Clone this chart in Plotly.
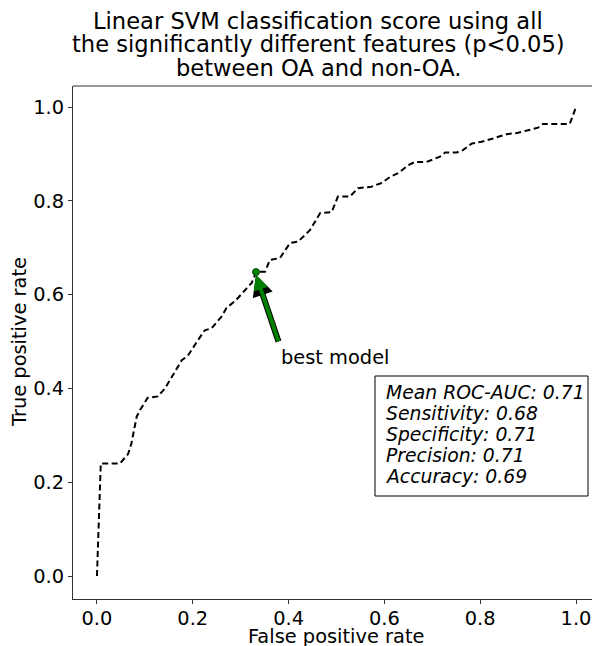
import plotly.graph_objects as go

# mean ROC curve
fpr = [0.0, 0.008, 0.048, 0.065, 0.072, 0.083, 0.09, 0.106, 0.127, 0.142, 0.177, 0.19,
       0.211, 0.225, 0.239, 0.26, 0.27, 0.29, 0.323, 0.333, 0.351, 0.361, 0.382, 0.403,
       0.42, 0.445, 0.466, 0.49, 0.503, 0.528, 0.545, 0.573, 0.594, 0.612, 0.629, 0.65,
       0.664, 0.688, 0.716, 0.727, 0.751, 0.764, 0.782, 0.803, 0.827, 0.855, 0.879,
       0.904, 0.921, 0.931, 0.987, 1.0]
tpr = [0.0, 0.24, 0.24, 0.26, 0.283, 0.34, 0.354, 0.38, 0.383, 0.40, 0.46, 0.47,
       0.503, 0.524, 0.528, 0.553, 0.571, 0.588, 0.625, 0.649, 0.649, 0.674, 0.678, 0.71,
       0.713, 0.738, 0.774, 0.776, 0.809, 0.809, 0.827, 0.83, 0.838, 0.851, 0.859, 0.876,
       0.883, 0.883, 0.894, 0.903, 0.903, 0.908, 0.922, 0.926, 0.933, 0.942, 0.945,
       0.951, 0.956, 0.964, 0.964, 1.0]

best_fpr = [0.332]
best_tpr = [0.648]

ticks = [0.0, 0.2, 0.4, 0.6, 0.8, 1.0]
tick_labels = ["0.0", "0.2", "0.4", "0.6", "0.8", "1.0"]

title_lines = [
    "Linear SVM classification score using all",
    "the significantly different features (p<0.05)",
    "between OA and non-OA.",
]

metrics = [
    ("Mean ROC-AUC", 0.71),
    ("Sensitivity", 0.68),
    ("Specificity", 0.71),
    ("Precision", 0.71),
    ("Accuracy", 0.69),
]

FONT = "DejaVu Sans"
FS = 19.4

# plot area in pixels: left 73, right 592, top 86, bottom 599
L, R, T, B = 73, 592, 86, 599


def px(p):
    return (p - L) / (R - L)


def py(p):
    return (B - p) / (B - T)


fig = go.Figure()

fig.add_trace(go.Scatter(
    x=fpr, y=tpr, mode="lines",
    line=dict(color="black", width=2, dash="6px,3.5px"),
    showlegend=False, hoverinfo="skip",
))
fig.add_trace(go.Scatter(
    x=best_fpr, y=best_tpr, mode="markers",
    marker=dict(color="green", size=7, line=dict(color="#0a4a0a", width=1)),
    showlegend=False,
))

# arrow: black underlay + green top to mimic edged matplotlib arrow
for col, w, s in (("black", 6, 0.7), ("green", 4, 0.75)):
    fig.add_annotation(
        x=best_fpr[0], y=best_tpr[0] - 0.006, xref="x", yref="y",
        ax=0.380, ay=0.497, axref="x", ayref="y",
        text="", showarrow=True, arrowhead=2, arrowsize=s,
        arrowwidth=w, arrowcolor=col, standoff=0,
    )

fig.add_annotation(
    x=0.381, y=0.465, xref="x", yref="y", xanchor="left", yanchor="middle",
    text="best model", showarrow=False,
    font=dict(family=FONT, size=FS, color="black"),
)

# metrics box
fig.add_shape(type="rect", xref="paper", yref="paper",
              x0=px(375), x1=px(588), y0=py(496), y1=py(376),
              line=dict(color="black", width=1), fillcolor="white", layer="above")
for i, (name, val) in enumerate(metrics):
    fig.add_annotation(
        x=px(384), y=py(392.5 + 21 * i), xref="paper", yref="paper",
        xanchor="left", yanchor="middle", showarrow=False,
        text=f"<i>{name}: {val:.2f}</i>",
        font=dict(family=FONT, size=18.8, color="black"),
    )

# title
for i, line in enumerate(title_lines):
    fig.add_annotation(
        x=px(318), y=py(21.5 + 23 * i), xref="paper", yref="paper",
        xanchor="center", yanchor="middle", showarrow=False, text=line,
        font=dict(family=FONT, size=22.6, color="black"),
    )

# axis titles
fig.add_annotation(x=px(336), y=py(636), xref="paper", yref="paper",
                   xanchor="center", yanchor="middle", showarrow=False,
                   text="False positive rate",
                   font=dict(family=FONT, size=FS, color="black"))
fig.add_annotation(x=px(19), y=py(342), xref="paper", yref="paper",
                   xanchor="center", yanchor="middle", showarrow=False,
                   text="True positive rate", textangle=-90,
                   font=dict(family=FONT, size=FS, color="black"))

# top spine
fig.add_shape(type="line", xref="paper", yref="paper", x0=0, x1=1, y0=1, y1=1,
              line=dict(color="#333333", width=1.2))

axis_common = dict(
    tickvals=ticks, ticktext=tick_labels,
    ticks="outside", ticklen=4, tickwidth=1, tickcolor="#333333",
    showline=True, linecolor="#333333", linewidth=1.2,
    showgrid=False, zeroline=False,
    tickfont=dict(family=FONT, size=FS, color="black"),
)

fig.update_xaxes(range=[-0.05, 1.0334], ticklabelstandoff=-2, **axis_common)
fig.update_yaxes(range=[-0.049, 1.0448], **axis_common)

fig.update_layout(
    width=592, height=646,
    margin=dict(l=L, r=592 - R, t=T, b=646 - B),
    plot_bgcolor="white", paper_bgcolor="white",
)

fig.write_html("out.html", config={"displayModeBar": False},
               post_script="document.body.style.margin='0';")
